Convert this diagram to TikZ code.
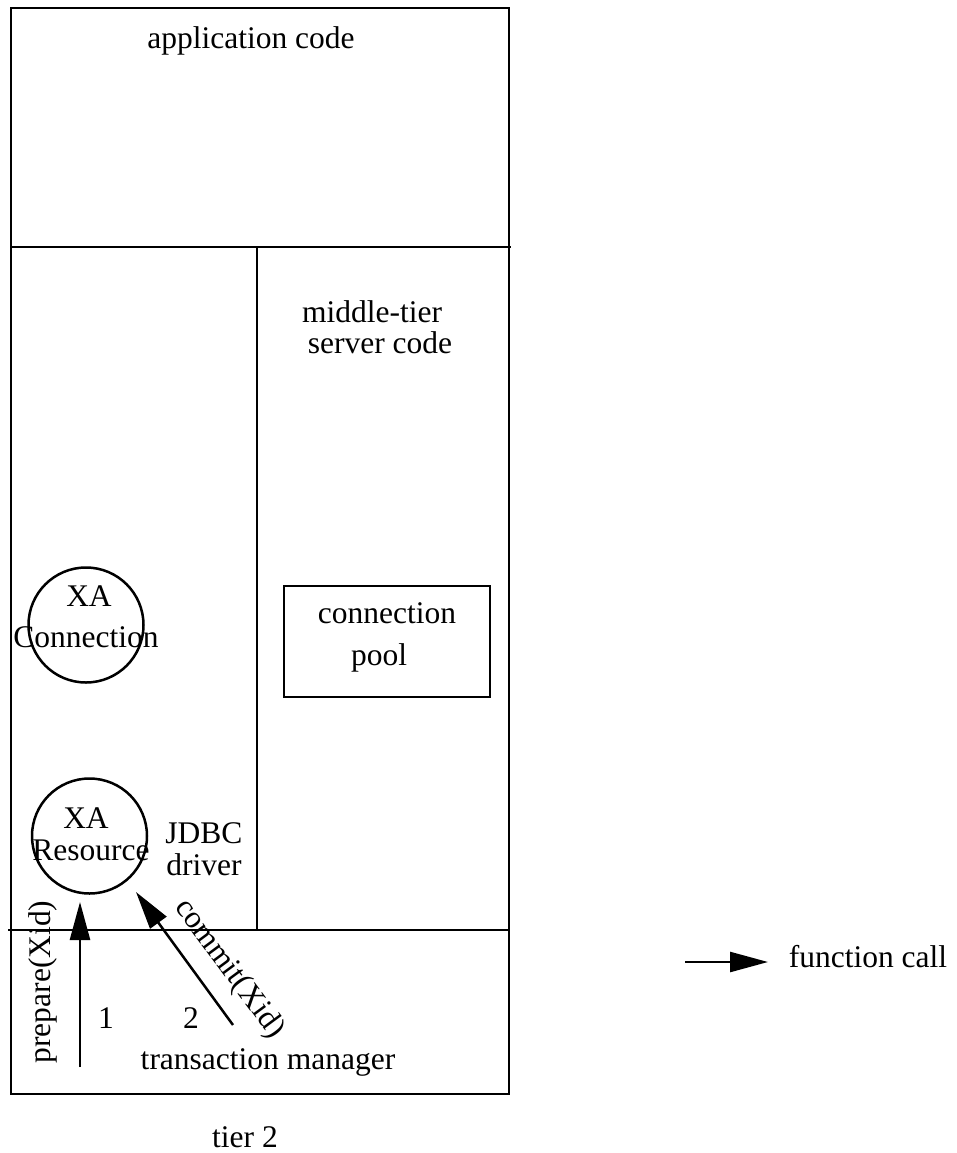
\documentclass[tikz,border=0pt]{standalone}
\usepackage{fontspec}
\setmainfont{Liberation Serif}
\usetikzlibrary{arrows.meta}
\begin{document}
\begin{tikzpicture}[x=1pt,y=-1pt,
  frame/.style={line width=2.8pt},
  lbl/.style={inner sep=0pt, anchor=base, font=\fontsize{31.5}{36}\selectfont},
  rlbl/.style={inner sep=0pt, anchor=center, font=\fontsize{31.5}{36}\selectfont},
  xacircle/.style={circle, draw, line width=2.5pt, minimum size=115pt, inner sep=0pt},
  fcall/.style={line width=2.5pt, -{Triangle[length=38pt,width=20pt]}}
]
\useasboundingbox (0,0) rectangle (956,1153);
% frames
\draw[frame] (11,8) rectangle (509,1094);
\coordinate (h1l) at (11,247); \coordinate (h1r) at (511,247);
\draw[frame] (h1l) -- (h1r);
\coordinate (v1t) at (257,247); \coordinate (v1b) at (257,930);
\draw[frame] (v1t) -- (v1b);
\coordinate (h2l) at (8,930); \coordinate (h2r) at (509,930);
\draw[frame] (h2l) -- (h2r);
% texts
\node[lbl] (app) at (251,49) {application code};
\node[lbl] (mid1) at (372,322) {middle-tier};
\node[lbl] (mid2) at (380,353) {server code};
% connection pool
\node[draw, line width=2.8pt, minimum width=206pt, minimum height=111pt, inner sep=0pt] (pool) at (387,641.5) {};
\node[lbl] (pool1) at (387,623) {connection};
\node[lbl] (pool2) at (379,665) {pool};
% circles
\node[xacircle] (xac) at (86,625) {};
\node[lbl] (xac1) at (89,606) {XA};
\node[lbl] (xac2) at (86,647) {Connection};
\node[xacircle] (xar) at (89.5,836) {};
\node[lbl] (xar1) at (86,828) {XA};
\node[lbl] (xar2) at (91,860) {Resource};
\node[lbl] (jdbc1) at (204,843) {JDBC};
\node[lbl] (jdbc2) at (204,875) {driver};
% arrows
\coordinate (p1s) at (80,1067); \coordinate (p1e) at (80,902);
\draw[fcall] (p1s) -- (p1e);
\coordinate (c2s) at (233,1025); \coordinate (c2e) at (136,892);
\draw[fcall] (c2s) -- (c2e);
\node[rlbl, rotate=90] (prep) at (43,982) {prepare(Xid)};
\node[rlbl, rotate=-53.5] (comm) at (229,969) {commit(Xid)};
\node[lbl] (n1) at (106,1028) {1};
\node[lbl] (n2) at (191,1028) {2};
\node[lbl] (tm) at (268,1069) {transaction manager};
\node[lbl] (tier) at (245,1147) {tier 2};
% legend
\coordinate (ls) at (685,962); \coordinate (le) at (768,962);
\draw[fcall] (ls) -- (le);
\node[lbl] (fc) at (868,967) {function call};
\end{tikzpicture}
\end{document}
